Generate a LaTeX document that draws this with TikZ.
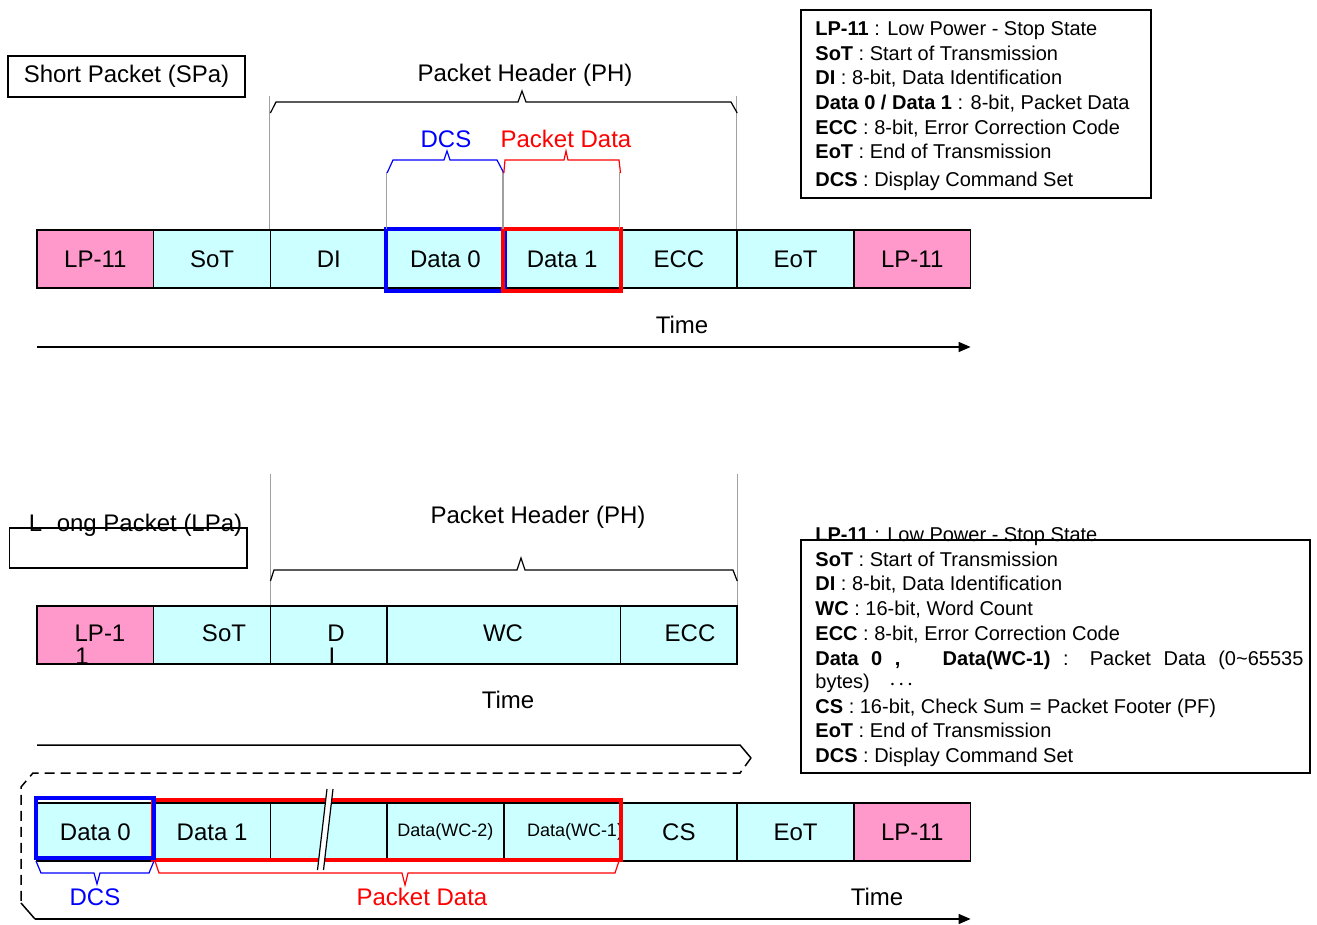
\documentclass[tikz,border=0pt]{standalone}
\usepackage{fontspec}
\setmainfont{Liberation Sans}
\usepackage{tikz}
\usetikzlibrary{arrows.meta}
\definecolor{cellcyan}{HTML}{CCFFFF}
\definecolor{cellpink}{HTML}{FF99CC}
\definecolor{guidegray}{HTML}{A0A0A0}

\begin{document}
\begin{tikzpicture}[x=0.5pt,y=-0.5pt,every node/.style={font=\fontsize{12}{14}\selectfont},
  cell/.style={draw,line width=0.75pt,fill=cellcyan,minimum width=58.35pt,minimum height=29pt,inner sep=0pt},
  legtext/.style={anchor=base west,inner sep=0pt,font=\fontsize{10}{12}\selectfont},
  guide/.style={guidegray,line width=0.6pt},
  bracel/.style={line width=0.6pt},
  timeaxis/.style={line width=0.75pt,-{Triangle[length=6pt,width=5pt]}}]
\useasboundingbox (0,0) rectangle (1317,925);
\node[draw,line width=0.6pt,minimum width=118.5pt,minimum height=20.5pt,inner sep=0pt] (spTitle) at (126.5,76.5) {Short Packet (SPa)};
\node (spPH) at (525,75) {Packet Header (PH)};
\node[text=blue] (spDCS) at (446,139) {DCS};
\node[text=red] (spPD) at (566,139) {Packet Data};
\node[cell,fill=cellpink] (spLP) at (95.35,259) {LP-11};
\node[cell] (spSoT) at (212.05,259) {SoT};
\node[cell] (spDI) at (328.75,259) {DI};
\node[cell] (spD0) at (445.45,259) {Data 0};
\node[cell] (spD1) at (562.15,259) {Data 1};
\node[cell] (spECC) at (678.85,259) {ECC};
\node[cell] (spEoT) at (795.55,259) {EoT};
\node[cell,fill=cellpink] (spLPe) at (912.25,259) {LP-11};
\draw[blue,line width=2pt] (spD0.north west) rectangle ([yshift=-1pt]spD0.south east);
\draw[red,line width=2pt] (spD1.north west) rectangle ([yshift=-1pt]spD1.south east);
\draw[guide] (spDI.north west) -- ++(0,-133);
\draw[guide] (spEoT.north west) -- ++(0,-133);
\draw[guide] (spD0.north west) -- ++(0,-57);
\draw[guide] (spD1.north west) -- ++(0,-57);
\draw[guide] (spECC.north west) -- ++(0,-57);
\draw[bracel] (270.4,113) -- (276,102) -- (518,102) -- (522,91) -- (526,102) -- (731,102) -- (737.2,113);
\draw[bracel,blue] (387.1,173) -- (393,160) -- (444,160) -- (447,151) -- (450,160) -- (497,160) -- (503.8,173);
\draw[bracel,red] (503.8,173) -- (505,160) -- (564,160) -- (566,151) -- (568,160) -- (619,160) -- (620.5,173);
\node (spTime) at (682,325) {Time};
\coordinate (spT0) at (37,347);
\coordinate (spT1) at (970.6,347);
\draw[timeaxis] (spT0) -- (spT1);
\draw[line width=0.75pt] (801,10) rectangle (1151,198);
\node[legtext] (spK1) at (815,36) {\textbf{LP-11} : Low Power - Stop State};
\node[legtext] (spK2) at (815,61) {\textbf{SoT} : Start of Transmission};
\node[legtext] (spK3) at (815,85) {\textbf{DI} : 8-bit, Data Identification};
\node[legtext] (spK4) at (815,110) {\textbf{Data 0 / Data 1} : 8-bit, Packet Data};
\node[legtext] (spK5) at (815,135) {\textbf{ECC} : 8-bit, Error Correction Code};
\node[legtext] (spK6) at (815,159) {\textbf{EoT} : End of Transmission};
\node[legtext] (spK7) at (815,187) {\textbf{DCS} : Display Command Set};
\node (lpTitle) at (135.5,525) {L\hspace{4pt} ong Packet (LPa)};
\draw[line width=0.6pt] (9.5,528) rectangle (247,568);
\draw[guide] (270.4,474) -- (270.4,606);
\draw[guide] (737.2,474) -- (737.2,606);
\node (lpPH) at (538,517) {Packet Header (PH)};
\draw[bracel] (270.4,581) -- (274,570) -- (517,570) -- (521,558) -- (525,570) -- (733,570) -- (737.2,581);
\node[cell,fill=cellpink] (lpLP) at (95.35,635) {};
\node[cell] (lpSoT) at (212.05,635) {};
\node[cell] (lpDI) at (328.75,635) {};
\node[cell,minimum width=116.7pt] (lpWC) at (503.8,635) {};
\node[cell] (lpECC) at (678.85,635) {};
\node (lpLPt) at (100,633) {LP-1};
\node (lpSoTt) at (224,633) {SoT};
\node (lpDIt) at (336,633) {D};
\node (lpWCt) at (503,633) {WC};
\node (lpECCt) at (690,633) {ECC};
\begin{scope}
\clip (lpLP.north west) rectangle (lpDI.south east);
\node (lpLPw) at (82,656) {1};
\node (lpDIw) at (332,656) {I};
\end{scope}
\node (lpTime) at (508,700) {Time};
\draw[line width=0.75pt] (37,745) -- (740,745) -- (751,758);
\draw[line width=0.75pt,dashed,dash pattern=on 5pt off 3pt] (751,758) -- (740,773) -- (33,773) -- (21,787) -- (21,903);
\draw[line width=0.75pt] (21,903) -- (35,919);
\coordinate (lpT0) at (35,919);
\coordinate (lpT1) at (970.6,919);
\draw[timeaxis] (lpT0) -- (lpT1);
\node[cell] (lpD0) at (95.35,832) {Data 0};
\node[cell] (lpD1) at (212.05,832) {Data 1};
\node[cell] (lpGap) at (328.75,832) {};
\node[cell,font=\fontsize{9}{11}\selectfont] (lpDW2) at (445.45,832) {Data(WC-2)};
\node[cell] (lpDW1) at (562.15,832) {};
\node[cell] (lpCS) at (678.85,832) {CS};
\node[cell] (lpEoT) at (795.55,832) {EoT};
\node[cell,fill=cellpink] (lpLPe) at (912.25,832) {LP-11};
\node[font=\fontsize{9}{11}\selectfont] (lpDW1t) at (575,832) {Data(WC-1)};
\draw[red,line width=2pt] ([yshift=1pt]lpD1.north west) rectangle ([yshift=1pt]lpDW1.south east);
\draw[blue,line width=2pt] ([yshift=2pt]lpD0.north west) rectangle ([yshift=2pt]lpD0.south east);
\fill[white] (327,789) -- (333,789) -- (323.5,870) -- (317.5,870) -- cycle;
\draw[line width=0.6pt] (327,789) -- (317.5,870);
\draw[line width=0.6pt] (333,789) -- (323.5,870);
\draw[bracel,blue] (36,861) -- (41,873) -- (94,873) -- (97,884) -- (100,873) -- (149,873) -- (154,861);
\draw[bracel,red] (155,861) -- (159,873) -- (402,873) -- (405,885) -- (408,873) -- (615,873) -- (619,861);
\node[text=blue] (lpDCS) at (95,897) {DCS};
\node[text=red] (lpPD) at (422,897) {Packet Data};
\node (lpTime2) at (877,897) {Time};
\node[legtext] (lpK1) at (815,541) {\textbf{LP-11} : Low Power - Stop State};
\draw[line width=0.75pt] (801,540) rectangle (1310,773);
\node[legtext] (lpK2) at (815,566) {\textbf{SoT} : Start of Transmission};
\node[legtext] (lpK3) at (815,590) {\textbf{DI} : 8-bit, Data Identification};
\node[legtext] (lpK4) at (815,615) {\textbf{WC} : 16-bit, Word Count};
\node[legtext] (lpK5) at (815,640) {\textbf{ECC} : 8-bit, Error Correction Code};
\node[legtext] (lpK6) at (815,665) {\makebox[244pt][s]{\textbf{Data 0 ,}\hspace{14pt} \textbf{Data(WC-1)} : Packet Data (0\textasciitilde65535}};
\node[legtext] (lpK7) at (815,688) {bytes)\hspace{10pt}{\footnotesize\boldmath$\cdots$}};
\node[legtext] (lpK8) at (815,713) {\textbf{CS} : 16-bit, Check Sum = Packet Footer (PF)};
\node[legtext] (lpK9) at (815,737) {\textbf{EoT} : End of Transmission};
\node[legtext] (lpK10) at (815,762) {\textbf{DCS} : Display Command Set};
\end{tikzpicture}
\end{document}
